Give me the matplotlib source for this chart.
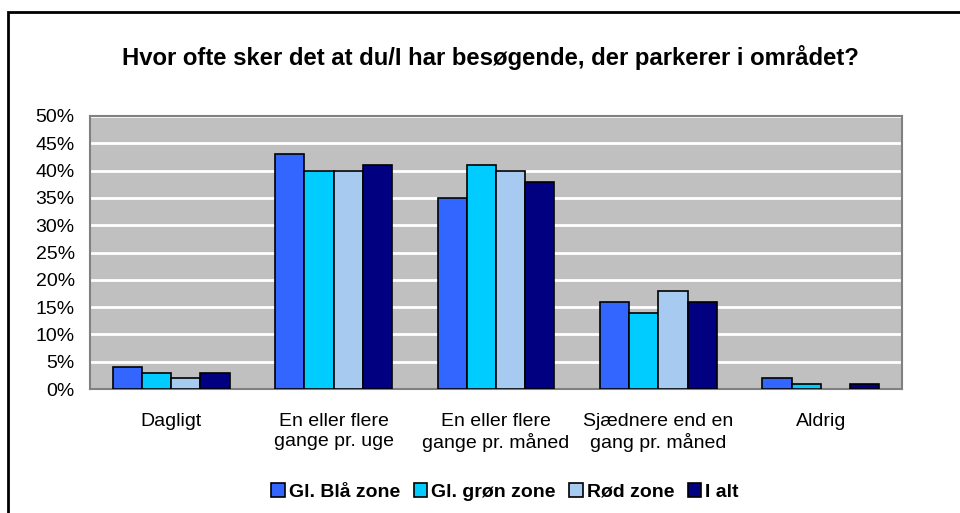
import matplotlib.pyplot as plt
import numpy as np
from matplotlib.patches import Rectangle

plt.rcParams['font.family'] = ['Liberation Sans', 'DejaVu Sans']

categories = ['Dagligt', 'En eller flere\ngange pr. uge', 'En eller flere\ngange pr. måned',
              'Sjædnere end en\ngang pr. måned', 'Aldrig']
series_names = ['Gl. Blå zone', 'Gl. grøn zone', 'Rød zone', 'I alt']
blaa = [4, 43, 35, 16, 2]
groen = [3, 40, 41, 14, 1]
roed = [2, 40, 40, 18, 0]
i_alt = [3, 41, 38, 16, 1]
colors = ['#3366FF', '#00CCFF', '#A6CAF0', '#000080']
yticks = [0, 5, 10, 15, 20, 25, 30, 35, 40, 45, 50]


def main():
    fig = plt.figure(figsize=(9.6, 5.13), dpi=100)
    # outer chart frame (runs off the right and bottom edge)
    fig.patches.append(Rectangle((8 / 960, -0.05), 1.2, 1 - 12 / 513 + 0.05,
                                 transform=fig.transFigure, fill=False,
                                 edgecolor='black', linewidth=2))

    ax = fig.add_axes([90 / 960, 1 - 389 / 513, 812 / 960, 273 / 513])
    ax.set_facecolor('#C0C0C0')
    x = np.arange(len(categories))
    w = 0.18
    data = [blaa, groen, roed, i_alt]
    for i, vals in enumerate(data):
        lw = [1.2 if v > 0 else 0 for v in vals]
        ax.bar(x + (i - 1.5) * w, vals, w, color=colors[i], edgecolor='black',
               linewidth=lw, zorder=3, label=series_names[i])

    ax.set_xlim(-0.5, len(categories) - 0.5)
    ax.set_ylim(0, 50)
    ax.set_yticks(yticks)
    ax.set_yticklabels([str(v) + '%' for v in yticks], fontsize=14)
    ax.yaxis.grid(True, color='white', linewidth=2, zorder=1)
    ax.set_axisbelow(True)
    ax.set_xticks(x)
    ax.set_xticklabels(categories, fontsize=14, linespacing=1.25)
    ax.tick_params(axis='y', length=0, pad=11)
    ax.tick_params(axis='x', length=0, pad=17)
    for s in ax.spines.values():
        s.set_color('#808080')
        s.set_linewidth(1.5)

    fig.text(490 / 960, 1 - 58 / 513, 'Hvor ofte sker det at du/I har besøgende, der parkerer i området?',
             ha='center', va='center', fontsize=17.2, fontweight='bold')

    fig.legend(loc='center', bbox_to_anchor=(505 / 960, 1 - 492 / 513), ncol=4,
               frameon=False, prop={'weight': 'bold', 'size': 14},
               handlelength=0.7, handleheight=0.7, handletextpad=0.2,
               columnspacing=0.7)
    fig.savefig('out.png', dpi=100)


if __name__ == '__main__':
    main()
